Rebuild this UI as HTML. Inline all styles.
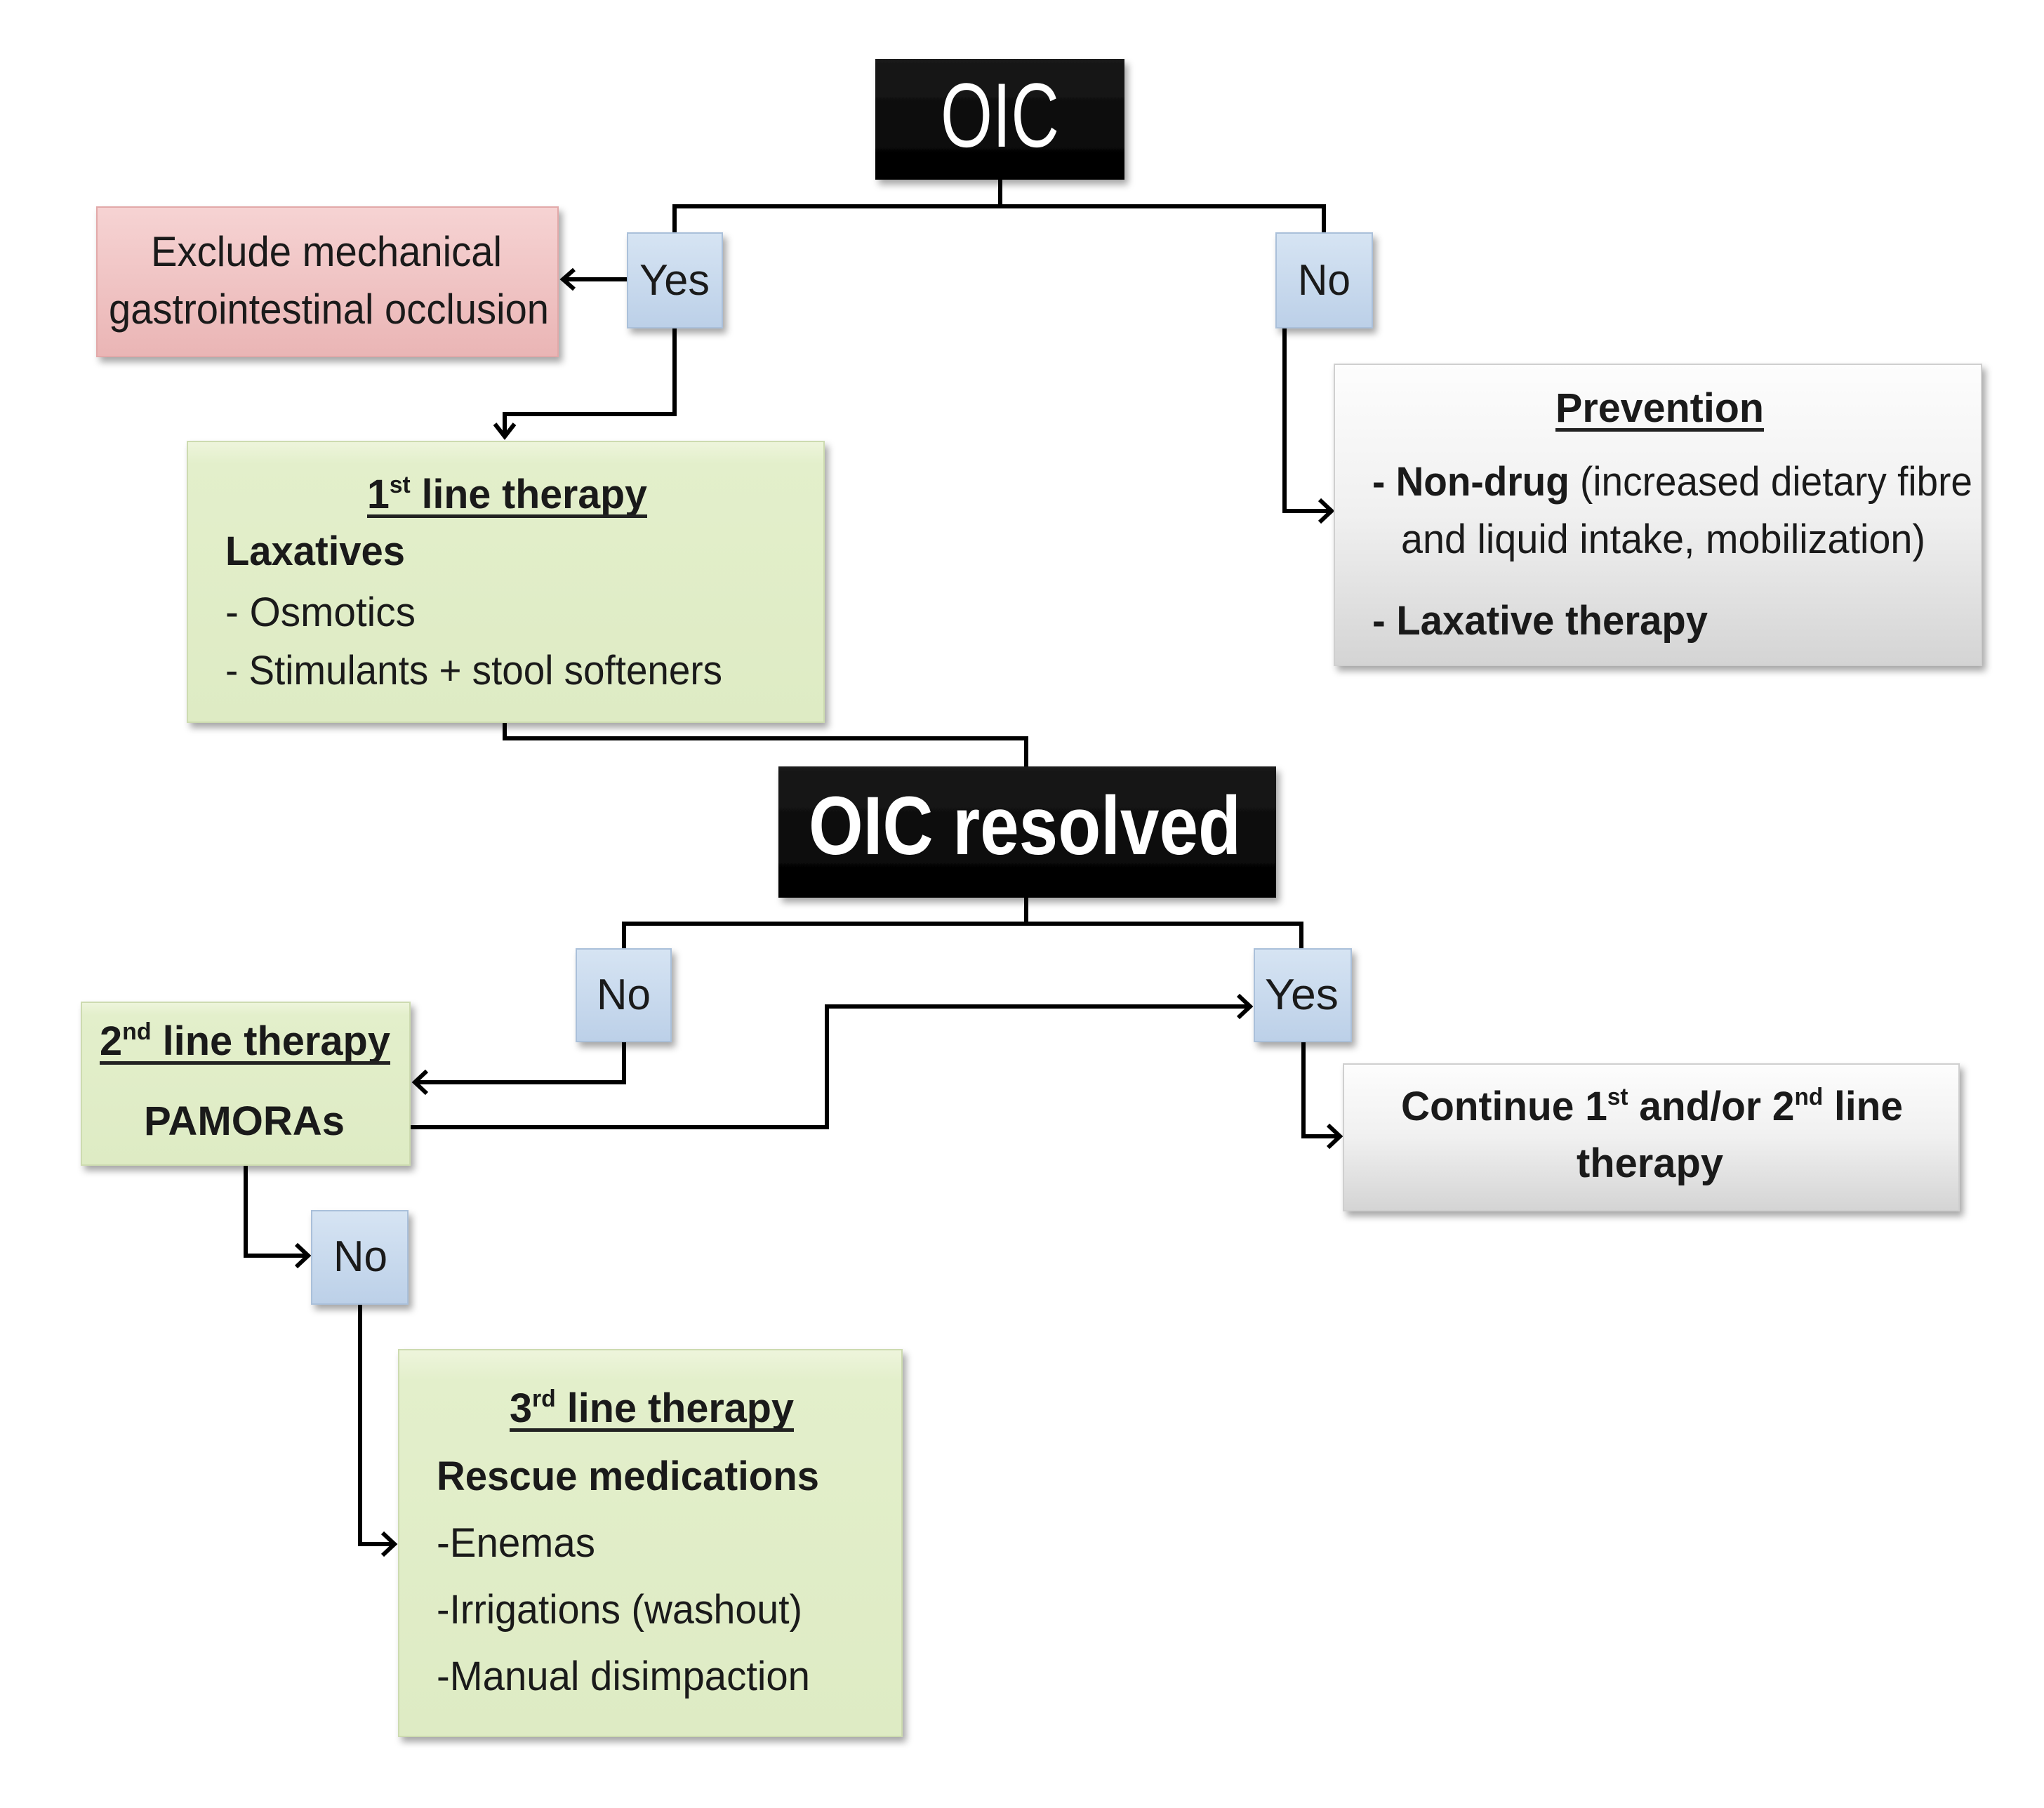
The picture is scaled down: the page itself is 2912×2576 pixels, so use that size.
<!DOCTYPE html>
<html><head><meta charset="utf-8"><style>
html,body{margin:0;padding:0;background:#fff;}
svg{display:block;}
text{font-family:"Liberation Sans",sans-serif;fill:#1a1a1a;}
</style></head><body>
<svg width="2912" height="2576" viewBox="0 0 2912 2576" xmlns="http://www.w3.org/2000/svg">
<defs>
<linearGradient id="pink" x1="0" y1="0" x2="0" y2="1"><stop offset="0" stop-color="#f6d3d3"/><stop offset="1" stop-color="#eab5b5"/></linearGradient>
<linearGradient id="blue" x1="0" y1="0" x2="0" y2="1"><stop offset="0" stop-color="#d6e4f3"/><stop offset="1" stop-color="#bcd0e8"/></linearGradient>
<linearGradient id="green" x1="0" y1="0" x2="0" y2="1"><stop offset="0" stop-color="#eef5dc"/><stop offset="0.08" stop-color="#e3efcb"/><stop offset="1" stop-color="#deebc4"/></linearGradient>
<linearGradient id="gray" x1="0" y1="0" x2="0" y2="1"><stop offset="0" stop-color="#fdfdfd"/><stop offset="0.5" stop-color="#f0f0f0"/><stop offset="1" stop-color="#d4d4d4"/></linearGradient>
<linearGradient id="black" x1="0" y1="0" x2="0" y2="1"><stop offset="0" stop-color="#1a1a1a"/><stop offset="1" stop-color="#000"/></linearGradient>
<filter id="sh" x="-10%" y="-10%" width="130%" height="130%"><feDropShadow dx="5" dy="7" stdDeviation="5" flood-color="#000" flood-opacity="0.35"/></filter>
<marker id="ar" markerWidth="10" markerHeight="10" refX="8" refY="5" orient="auto" markerUnits="userSpaceOnUse" viewBox="0 0 10 10">
</marker>
</defs>

<!-- connectors -->
<g stroke="#000" stroke-width="6" fill="none" stroke-linejoin="miter">
<polyline points="1425,256 1425,294 961,294 961,332"/>
<polyline points="1425,294 1886,294 1886,332"/>
<line x1="894" y1="398" x2="805" y2="398"/>
<polyline points="818,384 802,398 818,412"/>
<polyline points="961,467 961,590 719,590 719,620"/>
<polyline points="705,604 719,622 733,604"/>
<polyline points="1830,467 1830,728 1895,728"/>
<polyline points="1880,712 1897,728 1880,744"/>
<polyline points="719,1029 719,1052 1462,1052 1462,1092"/>
<polyline points="1462,1279 1462,1316 889,1316 889,1352"/>
<polyline points="1462,1316 1854,1316 1854,1352"/>
<polyline points="889,1484 889,1542 592,1542"/>
<polyline points="608,1526 591,1542 608,1558"/>
<polyline points="584,1606 1178,1606 1178,1434 1780,1434"/>
<polyline points="1764,1418 1781,1434 1764,1450"/>
<polyline points="1857,1484 1857,1619 1908,1619"/>
<polyline points="1892,1603 1909,1619 1892,1635"/>
<polyline points="350,1660 350,1789 438,1789"/>
<polyline points="422,1773 439,1789 422,1805"/>
<polyline points="513,1858 513,2200 561,2200"/>
<polyline points="545,2184 562,2200 545,2216"/>
</g>

<!-- boxes -->
<g filter="url(#sh)">
<rect x="1247" y="84" width="355" height="172" fill="url(#black)"/>
<rect x="138" y="295" width="657" height="213" fill="url(#pink)" stroke="#e2a9a9" stroke-width="2"/>
<rect x="894" y="332" width="135" height="135" fill="url(#blue)" stroke="#aac0da" stroke-width="2"/>
<rect x="1818" y="332" width="137" height="135" fill="url(#blue)" stroke="#aac0da" stroke-width="2"/>
<rect x="267" y="629" width="907" height="400" fill="url(#green)" stroke="#cddbb0" stroke-width="2"/>
<rect x="1901" y="519" width="922" height="429" fill="url(#gray)" stroke="#cfcfcf" stroke-width="2"/>
<rect x="1109" y="1092" width="709" height="187" fill="url(#black)"/>
<rect x="821" y="1352" width="135" height="132" fill="url(#blue)" stroke="#aac0da" stroke-width="2"/>
<rect x="1787" y="1352" width="138" height="132" fill="url(#blue)" stroke="#aac0da" stroke-width="2"/>
<rect x="116" y="1428" width="468" height="232" fill="url(#green)" stroke="#cddbb0" stroke-width="2"/>
<rect x="1914" y="1516" width="877" height="209" fill="url(#gray)" stroke="#cfcfcf" stroke-width="2"/>
<rect x="444" y="1725" width="137" height="133" fill="url(#blue)" stroke="#aac0da" stroke-width="2"/>
<rect x="568" y="1923" width="717" height="551" fill="url(#green)" stroke="#cddbb0" stroke-width="2"/>
</g>

<!-- text -->
<text x="1340" y="209" font-size="130" style="fill:#fff" textLength="169" lengthAdjust="spacingAndGlyphs">OIC</text>
<text x="1152" y="1217" font-size="118" font-weight="bold" style="fill:#fff" textLength="616" lengthAdjust="spacingAndGlyphs">OIC resolved</text>

<text x="215" y="379" font-size="60" textLength="500" lengthAdjust="spacingAndGlyphs">Exclude mechanical</text>
<text x="155" y="461" font-size="60" textLength="627" lengthAdjust="spacingAndGlyphs">gastrointestinal occlusion</text>

<text x="911" y="420" font-size="62" textLength="100" lengthAdjust="spacingAndGlyphs">Yes</text>
<text x="1849" y="420" font-size="62" textLength="75" lengthAdjust="spacingAndGlyphs">No</text>
<text x="850" y="1438" font-size="62" textLength="77" lengthAdjust="spacingAndGlyphs">No</text>
<text x="1802" y="1438" font-size="62" textLength="105" lengthAdjust="spacingAndGlyphs">Yes</text>
<text x="475" y="1811" font-size="62" textLength="77" lengthAdjust="spacingAndGlyphs">No</text>

<text x="523" y="724" font-size="58" font-weight="bold" textLength="399" lengthAdjust="spacingAndGlyphs">1<tspan font-size="34" dy="-22">st</tspan><tspan dy="22"> line therapy</tspan></text>
<rect x="523" y="733" width="399" height="5" fill="#222"/>
<text x="321" y="805" font-size="58" font-weight="bold" textLength="256" lengthAdjust="spacingAndGlyphs">Laxatives</text>
<text x="321" y="892" font-size="58" textLength="271" lengthAdjust="spacingAndGlyphs">- Osmotics</text>
<text x="321" y="975" font-size="58" textLength="708" lengthAdjust="spacingAndGlyphs">- Stimulants + stool softeners</text>

<text x="2216" y="601" font-size="58" font-weight="bold" textLength="297" lengthAdjust="spacingAndGlyphs">Prevention</text>
<rect x="2216" y="610" width="297" height="5" fill="#222"/>
<text x="1955" y="706" font-size="58" textLength="855" lengthAdjust="spacingAndGlyphs"><tspan font-weight="bold">- Non-drug</tspan> (increased dietary fibre</text>
<text x="1996" y="788" font-size="58" textLength="747" lengthAdjust="spacingAndGlyphs">and liquid intake, mobilization)</text>
<text x="1955" y="904" font-size="58" font-weight="bold" textLength="478" lengthAdjust="spacingAndGlyphs">- Laxative therapy</text>

<text x="142" y="1503" font-size="58" font-weight="bold" textLength="414" lengthAdjust="spacingAndGlyphs">2<tspan font-size="34" dy="-22">nd</tspan><tspan dy="22"> line therapy</tspan></text>
<rect x="142" y="1512" width="414" height="5" fill="#222"/>
<text x="205" y="1617" font-size="58" font-weight="bold" textLength="286" lengthAdjust="spacingAndGlyphs">PAMORAs</text>

<text x="1996" y="1596" font-size="58" font-weight="bold" textLength="715" lengthAdjust="spacingAndGlyphs">Continue 1<tspan font-size="34" dy="-22">st</tspan><tspan dy="22"> and/or 2</tspan><tspan font-size="34" dy="-22">nd</tspan><tspan dy="22"> line</tspan></text>
<text x="2246" y="1677" font-size="58" font-weight="bold" textLength="209" lengthAdjust="spacingAndGlyphs">therapy</text>

<text x="726" y="2026" font-size="58" font-weight="bold" textLength="405" lengthAdjust="spacingAndGlyphs">3<tspan font-size="34" dy="-22">rd</tspan><tspan dy="22"> line therapy</tspan></text>
<rect x="726" y="2035" width="405" height="5" fill="#222"/>
<text x="622" y="2123" font-size="58" font-weight="bold" textLength="545" lengthAdjust="spacingAndGlyphs">Rescue medications</text>
<text x="622" y="2218" font-size="58" textLength="226" lengthAdjust="spacingAndGlyphs">-Enemas</text>
<text x="622" y="2313" font-size="58" textLength="521" lengthAdjust="spacingAndGlyphs">-Irrigations (washout)</text>
<text x="622" y="2408" font-size="58" textLength="532" lengthAdjust="spacingAndGlyphs">-Manual disimpaction</text>
</svg>
</body></html>
